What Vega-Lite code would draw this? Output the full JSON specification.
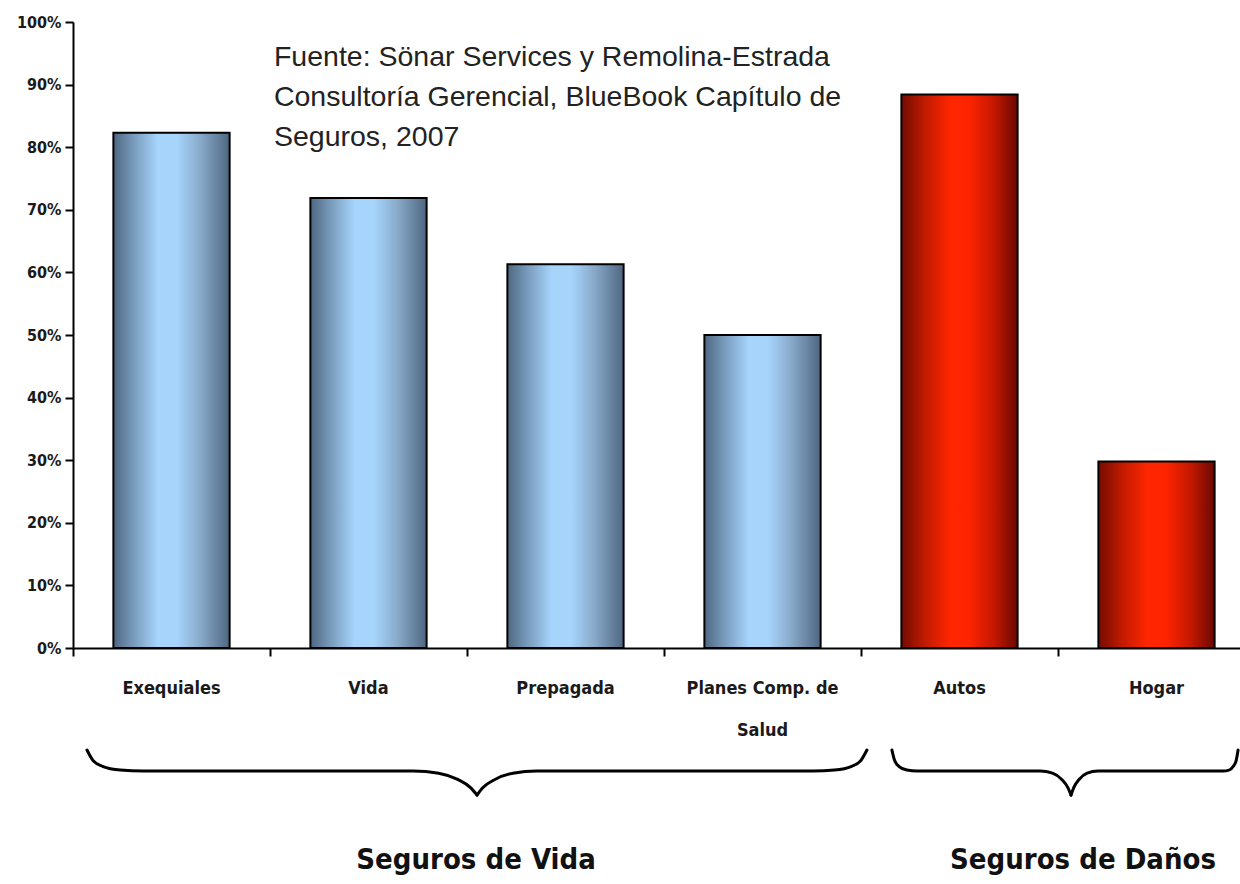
{
  "$schema": "https://vega.github.io/schema/vega-lite/v6.json",
  "width": 1167,
  "height": 626,
  "autosize": {"type": "none"},
  "padding": {"left": 73, "top": 22, "right": 0, "bottom": 236},
  "background": "white",
  "config": {"view": {"stroke": null}},
  "resolve": {"scale": {"x": "independent"}, "axis": {"x": "independent", "y": "independent"}},
  "layer": [
    {
      "data": {"values": [
        {"cat": "Exequiales", "pct": 0.823, "grupo": "Vida"},
        {"cat": "Vida", "pct": 0.719, "grupo": "Vida"},
        {"cat": "Prepagada", "pct": 0.613, "grupo": "Vida"},
        {"cat": "Planes Comp. de Salud", "pct": 0.50, "grupo": "Vida"},
        {"cat": "Autos", "pct": 0.884, "grupo": "Daños"},
        {"cat": "Hogar", "pct": 0.298, "grupo": "Daños"}
      ]},
      "mark": {"type": "bar", "stroke": "black", "strokeWidth": 2},
      "encoding": {
        "x": {
          "field": "cat", "type": "nominal",
          "sort": ["Exequiales", "Vida", "Prepagada", "Planes Comp. de Salud", "Autos", "Hogar"],
          "scale": {"range": [0, 1182], "paddingInner": 0.41, "paddingOuter": 0.205},
          "axis": {
            "title": null, "ticks": false, "domainColor": "black", "domainWidth": 2, "orient": "bottom",
            "labelAngle": 0, "labelFont": "'DejaVu Sans Condensed', 'Liberation Sans', sans-serif", "labelFontWeight": "bold",
            "labelFontSize": 18, "labelColor": "#1a1a1a", "labelPadding": 31, "labelLineHeight": 42,
            "labelExpr": "datum.label == 'Planes Comp. de Salud' ? ['Planes Comp. de', 'Salud'] : datum.label"
          }
        },
        "y": {
          "field": "pct", "type": "quantitative",
          "scale": {"domain": [0, 1], "nice": false, "zero": true},
          "axis": {
            "title": null, "format": ".0%", "values": [0, 0.1, 0.2, 0.3, 0.4, 0.5, 0.6, 0.7, 0.8, 0.9, 1],
            "grid": false, "domainColor": "black", "domainWidth": 2, "tickColor": "black", "tickWidth": 2,
            "tickSize": 8, "labelFont": "'DejaVu Sans Condensed', 'Liberation Sans', sans-serif", "labelFontWeight": "bold",
            "labelFontSize": 16, "labelColor": "#1a1a1a", "labelPadding": 4
          }
        },
        "fill": {
          "condition": {
            "test": "datum.grupo == 'Vida'",
            "value": {
              "gradient": "linear", "x1": 0, "x2": 1, "y1": 0, "y2": 0,
              "stops": [
                {"offset": 0, "color": "#4d6781"},
                {"offset": 0.15, "color": "#7394b4"},
                {"offset": 0.38, "color": "#a6d4fc"},
                {"offset": 0.55, "color": "#a6d4fb"},
                {"offset": 0.75, "color": "#88a9c9"},
                {"offset": 1, "color": "#4e6781"}
              ]
            }
          },
          "value": {
            "gradient": "linear", "x1": 0, "x2": 1, "y1": 0, "y2": 0,
            "stops": [
              {"offset": 0, "color": "#720c00"},
              {"offset": 0.2, "color": "#c01a00"},
              {"offset": 0.42, "color": "#ff2600"},
              {"offset": 0.58, "color": "#ff2400"},
              {"offset": 0.8, "color": "#c21800"},
              {"offset": 1, "color": "#6a0800"}
            ]
          }
        }
      }
    },
    {
      "data": {"values": [
        {"u": 0.071, "v": -0.163, "part": "a"},
        {"u": 0.100, "v": -0.179, "part": "a"},
        {"u": 0.150, "v": -0.189, "part": "a"},
        {"u": 0.240, "v": -0.195, "part": "a"},
        {"u": 0.355, "v": -0.1965, "part": "a"},
        {"u": 1.726, "v": -0.1965, "part": "a"},
        {"u": 1.856, "v": -0.200, "part": "a"},
        {"u": 1.953, "v": -0.210, "part": "a"},
        {"u": 2.018, "v": -0.223, "part": "a"},
        {"u": 2.051, "v": -0.235, "part": "a"},
        {"u": 2.051, "v": -0.235, "part": "b"},
        {"u": 2.081, "v": -0.223, "part": "b"},
        {"u": 2.142, "v": -0.210, "part": "b"},
        {"u": 2.233, "v": -0.200, "part": "b"},
        {"u": 2.355, "v": -0.1965, "part": "b"},
        {"u": 3.756, "v": -0.1965, "part": "b"},
        {"u": 3.866, "v": -0.195, "part": "b"},
        {"u": 3.953, "v": -0.189, "part": "b"},
        {"u": 4.001, "v": -0.179, "part": "b"},
        {"u": 4.030, "v": -0.163, "part": "b"},
        {"u": 4.157, "v": -0.163, "part": "c"},
        {"u": 4.170, "v": -0.179, "part": "c"},
        {"u": 4.192, "v": -0.189, "part": "c"},
        {"u": 4.233, "v": -0.195, "part": "c"},
        {"u": 4.284, "v": -0.1965, "part": "c"},
        {"u": 4.909, "v": -0.1965, "part": "c"},
        {"u": 4.972, "v": -0.200, "part": "c"},
        {"u": 5.019, "v": -0.210, "part": "c"},
        {"u": 5.050, "v": -0.223, "part": "c"},
        {"u": 5.066, "v": -0.235, "part": "c"},
        {"u": 5.066, "v": -0.235, "part": "d"},
        {"u": 5.080, "v": -0.223, "part": "d"},
        {"u": 5.107, "v": -0.210, "part": "d"},
        {"u": 5.148, "v": -0.200, "part": "d"},
        {"u": 5.203, "v": -0.1965, "part": "d"},
        {"u": 5.838, "v": -0.1965, "part": "d"},
        {"u": 5.868, "v": -0.195, "part": "d"},
        {"u": 5.890, "v": -0.189, "part": "d"},
        {"u": 5.905, "v": -0.179, "part": "d"},
        {"u": 5.914, "v": -0.163, "part": "d"}
      ]},
      "mark": {"type": "line", "color": "black", "strokeWidth": 3, "interpolate": "monotone", "strokeCap": "round"},
      "encoding": {
        "x": {
          "field": "u", "type": "quantitative",
          "scale": {"domain": [0, 6], "range": [0, 1182], "nice": false, "zero": false},
          "axis": {
            "title": null, "orient": "bottom", "values": [0, 1, 2, 3, 4, 5, 6], "labels": false, "domain": false, "grid": false,
            "ticks": true, "tickSize": 8, "tickWidth": 2, "tickColor": "black"
          }
        },
        "y": {"field": "v", "type": "quantitative", "scale": {"domain": [0, 1], "nice": false}, "axis": null},
        "detail": {"field": "part"}
      }
    },
    {
      "data": {"values": [
        {"u": 1.02, "v": 0.944, "texto": "Fuente: Sönar Services y Remolina-Estrada\nConsultoría Gerencial, BlueBook Capítulo de\nSeguros, 2007"}
      ]},
      "mark": {"type": "text", "align": "left", "baseline": "middle", "lineBreak": "\n", "lineHeight": 40,
               "font": "Liberation Sans", "fontSize": 28.5, "color": "#222222"},
      "encoding": {
        "x": {"field": "u", "type": "quantitative", "scale": {"domain": [0, 6], "range": [0, 1182], "nice": false, "zero": false}, "axis": null},
        "y": {"field": "v", "type": "quantitative", "scale": {"domain": [0, 1], "nice": false}, "axis": null},
        "text": {"field": "texto"}
      }
    },
    {
      "data": {"values": [
        {"u": 2.046, "v": -0.339, "grupo": "Seguros de Vida"},
        {"u": 5.127, "v": -0.339, "grupo": "Seguros de Daños"}
      ]},
      "mark": {"type": "text", "align": "center", "baseline": "middle",
               "font": "'DejaVu Sans Condensed', 'Liberation Sans', sans-serif", "fontWeight": "bold", "fontSize": 29, "color": "#111111"},
      "encoding": {
        "x": {"field": "u", "type": "quantitative", "scale": {"domain": [0, 6], "range": [0, 1182], "nice": false, "zero": false}, "axis": null},
        "y": {"field": "v", "type": "quantitative", "scale": {"domain": [0, 1], "nice": false}, "axis": null},
        "text": {"field": "grupo"}
      }
    }
  ]
}
